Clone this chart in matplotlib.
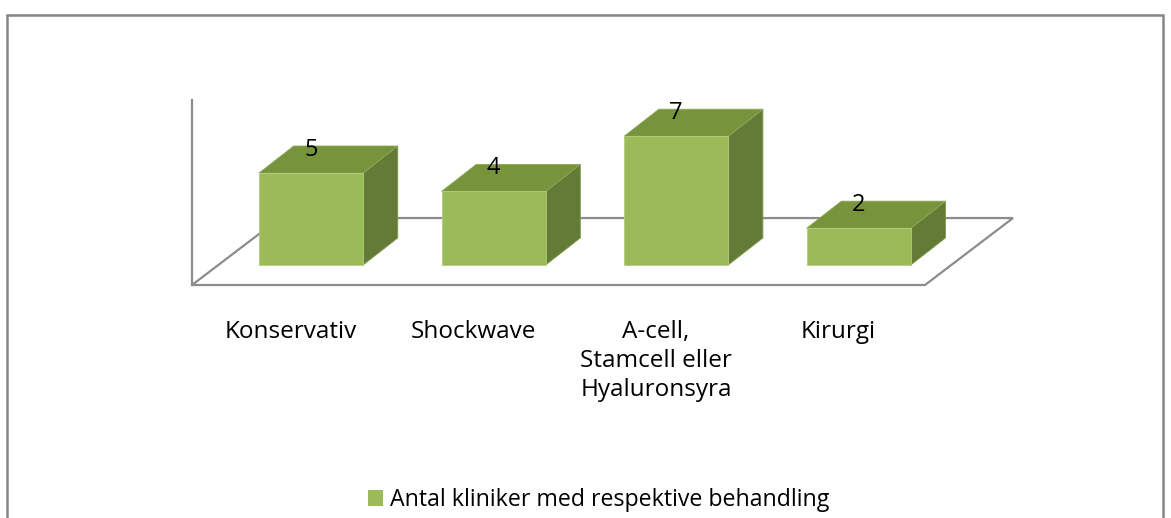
import matplotlib.pyplot as plt
from matplotlib.patches import Polygon, Rectangle, Patch
import numpy as np

categories = ["Konservativ", "Shockwave", "A-cell,\nStamcell eller\nHyaluronsyra", "Kirurgi"]
values = [5, 4, 7, 2]
series_name = "Antal kliniker med respektive behandling"

front_c = "#9BBB59"
top_c = "#77933C"
side_c = "#647A37"
grid_c = "#8C8C8C"

plt.rcParams['font.family'] = ['Open Sans', 'DejaVu Sans']

W, H = 1171, 518
fig = plt.figure(figsize=(W/100, H/100), dpi=100)

# plot area in pixels -> figure fraction
left_px, right_px, top_px, bot_px = 192, 1013, 100, 285
ax = fig.add_axes([left_px/W, 1-bot_px/H, (right_px-left_px)/W, (bot_px-top_px)/H])
xlim = (-0.652, 3.845)
ylim = (-1.087, 8.97)
ax.set_xlim(*xlim)
ax.set_ylim(*ylim)
ax.axis('off')

bw = 0.57          # bar width in category units
ddx, ddy = 0.19, 1.47   # bar depth offset (oblique)
fdx, fdy = 0.482, 3.64  # floor depth offset

# floor and left wall
fl = [(xlim[0], ylim[0]), (3.363, ylim[0]), (3.363+fdx, ylim[0]+fdy), (xlim[0]+fdx, ylim[0]+fdy)]
ax.add_patch(Polygon(fl, closed=True, fill=False, edgecolor=grid_c, lw=1.6, clip_on=False, zorder=1))
ax.plot([xlim[0], xlim[0]], [ylim[0], ylim[1]], color=grid_c, lw=1.6, clip_on=False, zorder=1)

x = np.arange(len(values))
for i, v in zip(x, values):
    x0, x1 = i - bw/2, i + bw/2
    ax.add_patch(Polygon([(x1, 0), (x1+ddx, ddy), (x1+ddx, v+ddy), (x1, v)],
                         facecolor=side_c, edgecolor="#7F9A48", lw=0.6, clip_on=False, zorder=2))
    ax.add_patch(Polygon([(x0, v), (x1, v), (x1+ddx, v+ddy), (x0+ddx, v+ddy)],
                         facecolor=top_c, edgecolor="#8DAA55", lw=0.6, clip_on=False, zorder=2))
    ax.add_patch(Rectangle((x0, 0), bw, v, facecolor=front_c, edgecolor="#B2CC7E", lw=0.6,
                           clip_on=False, zorder=3))
    ax.text(i, v + ddy - 0.2, str(v), ha='center', va='center', fontsize=17, color='black', zorder=4)
    ax.text(i - 0.11, -2.97, categories[i], ha='center', va='top', fontsize=17.5,
            linespacing=1.3, color='black')

# outer chart frame
fig.add_artist(Rectangle((7/W, -0.1), (1163-7)/W, 1.1 - 15/H, transform=fig.transFigure,
                         fill=False, edgecolor='#868686', lw=1.8))

fig.legend(handles=[Patch(facecolor=front_c, edgecolor='none')], labels=[series_name],
           loc='center', bbox_to_anchor=(599/W, 1-500/H), frameon=False, fontsize=16.7,
           handlelength=0.65, handleheight=0.65, handletextpad=0.3)

fig.savefig("out.png", dpi=100)
